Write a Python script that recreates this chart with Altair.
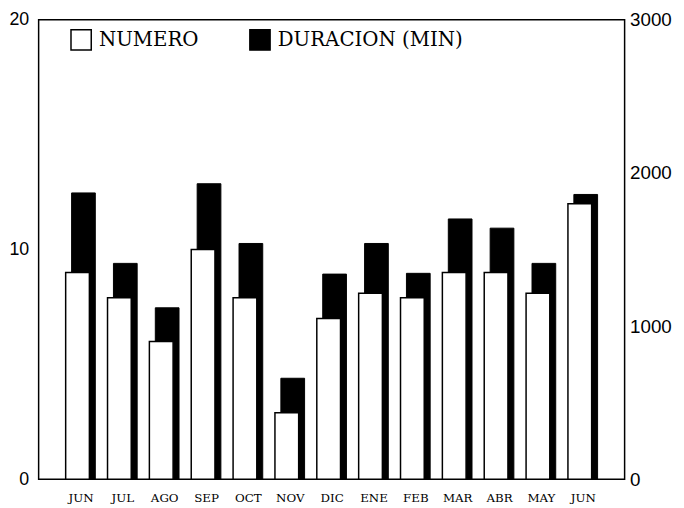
import json
import altair as alt
import pandas as pd

months = ["JUN", "JUL", "AGO", "SEP", "OCT", "NOV", "DIC", "ENE", "FEB", "MAR", "ABR", "MAY", "JUN"]
numero = [9, 7.9, 6, 10, 7.9, 2.9, 7, 8.1, 7.9, 9, 9, 8.1, 12]
duracion = [1870, 1410, 1120, 1930, 1540, 660, 1340, 1540, 1345, 1700, 1640, 1410, 1860]
series = ["NUMERO", "DURACION (MIN)"]

df = pd.DataFrame({
    "idx": list(range(len(months))),
    "mes": months,
    "numero": numero,
    "duracion": duracion,
})
df_num = df.assign(serie=series[0])
df_dur = df.assign(serie=series[1])

label_expr = json.dumps(months) + "[datum.value]"

x_enc = alt.X(
    "idx:O",
    scale=alt.Scale(type="point", padding=1),
    axis=alt.Axis(
        title=None, labelExpr=label_expr, labelAngle=0, ticks=False, domain=False,
        labelFont="DejaVu Serif", labelFontSize=12, labelPadding=13, labelColor="black",
    ),
)

fill_scale = alt.Scale(domain=series, range=["white", "black"])
legend = alt.Legend(
    title=None, orient="none", legendX=32, legendY=9, direction="horizontal", columns=2,
    symbolType="square", symbolSize=420, symbolStrokeColor="black", symbolStrokeWidth=1.5,
    labelFont="DejaVu Serif", labelFontSize=20, labelColor="black", labelOffset=7,
    columnPadding=48, labelLimit=300,
)

black = alt.Chart(df_dur).mark_bar(size=24, xOffset=3, stroke="black", strokeWidth=1).encode(
    x=x_enc,
    y=alt.Y(
        "duracion:Q",
        scale=alt.Scale(domain=[0, 3000], nice=False),
        axis=alt.Axis(
            orient="right", title=None, values=[0, 1000, 2000, 3000], format="d", grid=False,
            ticks=False, domain=False, labelFont="Liberation Sans", labelFontSize=19,
            labelPadding=5, labelColor="black", labelFlush=False,
        ),
    ),
    fill=alt.Fill("serie:N", scale=fill_scale, legend=legend),
)

white = alt.Chart(df_num).mark_bar(size=24, xOffset=-3, stroke="black", strokeWidth=1.5).encode(
    x=x_enc,
    y=alt.Y(
        "numero:Q",
        scale=alt.Scale(domain=[0, 20], nice=False),
        axis=alt.Axis(
            orient="left", title=None, values=[0, 10, 20], grid=False, ticks=False,
            domain=False, labelFont="Liberation Sans", labelFontSize=18, labelPadding=10,
            labelColor="black", labelFlush=False,
        ),
    ),
    fill=alt.Fill("serie:N", scale=fill_scale, legend=legend),
)

chart = (
    alt.layer(black, white)
    .resolve_scale(y="independent")
    .properties(
        width=593, height=465,
        autosize=alt.AutoSizeParams(type="none"),
        padding={"left": 31, "top": 9, "right": 52, "bottom": 26},
        background="white",
    )
    .configure_view(stroke="black", strokeWidth=1.5)
)

chart.save("out.html", embed_options={"renderer": "svg", "actions": False})
